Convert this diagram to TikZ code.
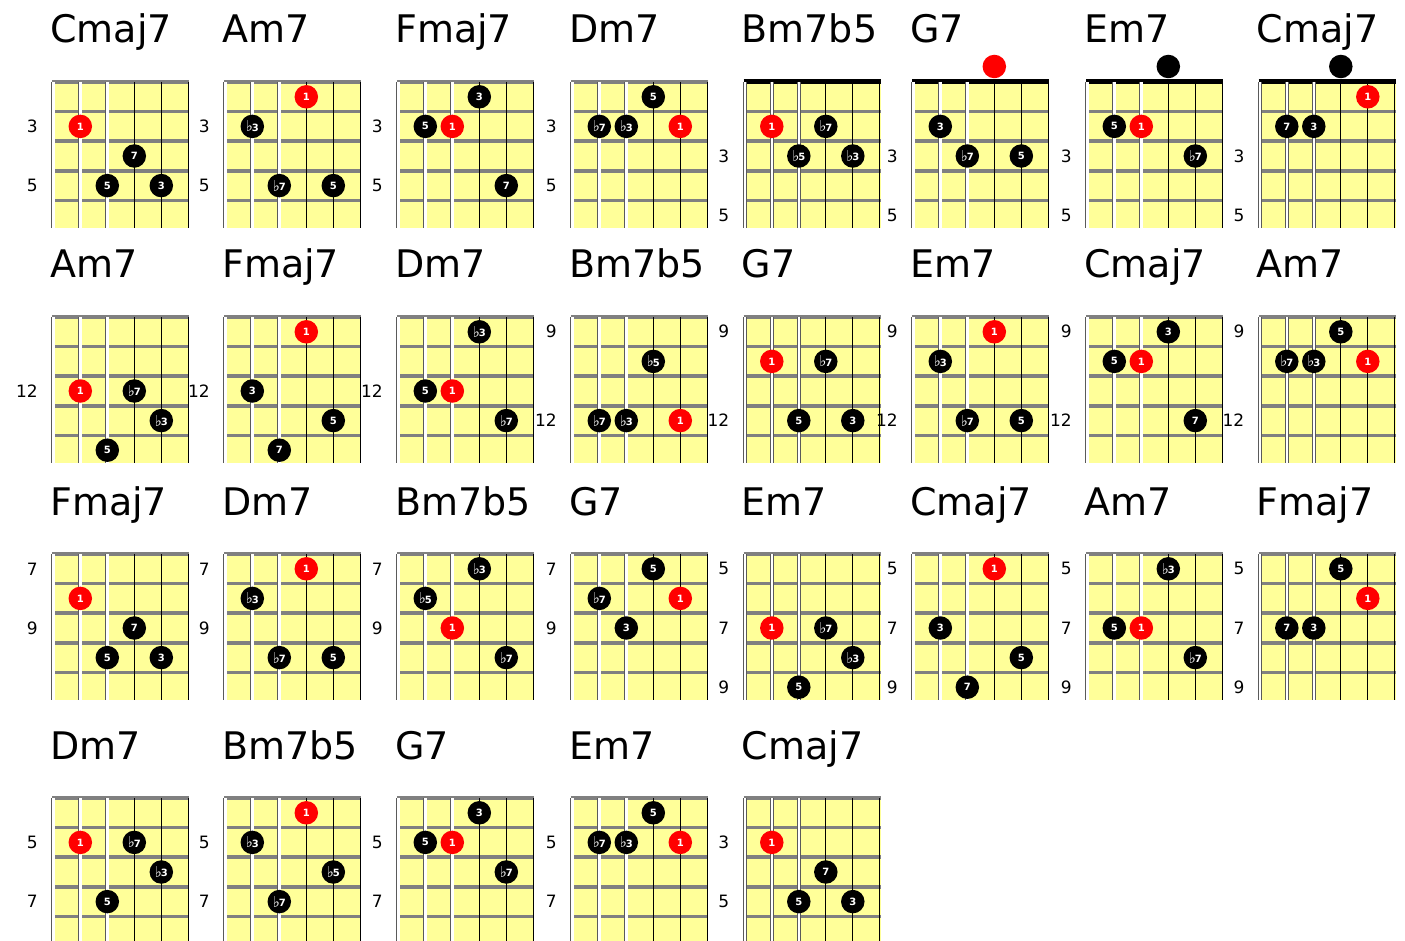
\documentclass[tikz,border=0pt]{standalone}
\usepackage{fontspec}
\setmainfont{DejaVu Sans}
\definecolor{fy}{RGB}{255,255,153}
\definecolor{fg}{RGB}{128,128,128}
\definecolor{rootred}{RGB}{255,0,0}
\newcommand\flt{{\fontsize{15}{15}\selectfont\mdseries\raisebox{-0.5pt}{♭}}\kern-1pt}
\tikzset{
 fretline/.style={draw=fg, line width=3.5pt},
 nutline/.style={draw=black, line width=5pt},
 wstring/.style={draw=fg!70!black, double=white, double distance=2.6pt, line width=0.8pt},
 bstring/.style={draw=black, line width=1.3pt},
 tone/.style={circle, text=white, minimum size=23.5pt, inner sep=0pt, font=\fontsize{10}{10}\selectfont\bfseries},
 charttitle/.style={anchor=base west, inner sep=0pt, font=\fontsize{38}{38}\selectfont},
 fretnum/.style={anchor=east, inner sep=0pt, font=\fontsize{17}{17}\selectfont},
}
% #1 name, #2 x0, #3 top, #4 title, #5 top line style, #6 labels r/text, #7 dots s/r/text/colour
\newcommand\chorddiag[7]{%
  \node[charttitle] (#1-t) at (#2-2,#3-39) {#4};
  \fill[fy] (#2,#3) rectangle (#2+137,#3+146);
  \foreach \k in {1,...,4} \draw[fretline] (#2,#3+\k*29.6) -- (#2+137,#3+\k*29.6);
  \draw[#5] (#2,#3) -- (#2+137,#3);
  \foreach \s in {0,1,2} \draw[wstring] (#2+1.3+\s*27,#3) -- (#2+1.3+\s*27,#3+146);
  \foreach \s in {3,4,5} \draw[bstring] (#2+1.3+\s*27,#3) -- (#2+1.3+\s*27,#3+146);
  \foreach \r/\txt in {#6} \node[fretnum] (#1-n\r) at (#2-14,#3+\r*29.6-14.8) {\txt};
  \foreach \s/\r/\txt/\col in {#7} \node[tone, fill=\col] (#1-\s-\r) at (#2+1.3+\s*27-27,#3+\r*29.6-14.8) {\txt};
}
\begin{document}
\begin{tikzpicture}[x=1pt,y=-1pt]
\useasboundingbox (0,0) rectangle (1405,941);
\clip (0,0) rectangle (1405,941);
\fill[white] (0,0) rectangle (1405,941);
% row 1
\chorddiag{a1}{52}{82}{Cmaj7}{fretline}{2/3,4/5}{2/2/1/rootred,4/3/7/black,3/4/5/black,5/4/3/black}
\chorddiag{a2}{224}{82}{Am7}{fretline}{2/3,4/5}{4/1/1/rootred,2/2/\flt 3/black,3/4/\flt 7/black,5/4/5/black}
\chorddiag{a3}{397}{82}{Fmaj7}{fretline}{2/3,4/5}{4/1/3/black,2/2/5/black,3/2/1/rootred,5/4/7/black}
\chorddiag{a4}{571}{82}{Dm7}{fretline}{2/3,4/5}{4/1/5/black,2/2/\flt 7/black,3/2/\flt 3/black,5/2/1/rootred}
\chorddiag{a5}{743.5}{82}{Bm7b5}{nutline}{3/3,5/5}{2/2/1/rootred,4/2/\flt 7/black,3/3/\flt 5/black,5/3/\flt 3/black}
\chorddiag{a6}{912}{82}{G7}{nutline}{3/3,5/5}{2/2/3/black,3/3/\flt 7/black,5/3/5/black}
\chorddiag{a7}{1086}{82}{Em7}{nutline}{3/3,5/5}{2/2/5/black,3/2/1/rootred,5/3/\flt 7/black}
\chorddiag{a8}{1258.5}{82}{Cmaj7}{nutline}{3/3,5/5}{5/1/1/rootred,2/2/7/black,3/2/3/black}
\node[tone, fill=rootred] (a6-open) at (912+1.3+81,66.5) {};
\node[tone, fill=black] (a7-open) at (1086+1.3+81,66.5) {};
\node[tone, fill=black] (a8-open) at (1258.5+1.3+81,66.5) {};
% row 2
\chorddiag{b1}{52}{317}{Am7}{fretline}{3/12}{2/3/1/rootred,4/3/\flt 7/black,5/4/\flt 3/black,3/5/5/black}
\chorddiag{b2}{224}{317}{Fmaj7}{fretline}{3/12}{4/1/1/rootred,2/3/3/black,5/4/5/black,3/5/7/black}
\chorddiag{b3}{397}{317}{Dm7}{fretline}{3/12}{4/1/\flt 3/black,2/3/5/black,3/3/1/rootred,5/4/\flt 7/black}
\chorddiag{b4}{571}{317}{Bm7b5}{fretline}{1/9,4/12}{4/2/\flt 5/black,2/4/\flt 7/black,3/4/\flt 3/black,5/4/1/rootred}
\chorddiag{b5}{743.5}{317}{G7}{fretline}{1/9,4/12}{2/2/1/rootred,4/2/\flt 7/black,3/4/5/black,5/4/3/black}
\chorddiag{b6}{912}{317}{Em7}{fretline}{1/9,4/12}{4/1/1/rootred,2/2/\flt 3/black,3/4/\flt 7/black,5/4/5/black}
\chorddiag{b7}{1086}{317}{Cmaj7}{fretline}{1/9,4/12}{4/1/3/black,2/2/5/black,3/2/1/rootred,5/4/7/black}
\chorddiag{b8}{1258.5}{317}{Am7}{fretline}{1/9,4/12}{4/1/5/black,2/2/\flt 7/black,3/2/\flt 3/black,5/2/1/rootred}
% row 3
\chorddiag{c1}{52}{554}{Fmaj7}{fretline}{1/7,3/9}{2/2/1/rootred,4/3/7/black,3/4/5/black,5/4/3/black}
\chorddiag{c2}{224}{554}{Dm7}{fretline}{1/7,3/9}{4/1/1/rootred,2/2/\flt 3/black,3/4/\flt 7/black,5/4/5/black}
\chorddiag{c3}{397}{554}{Bm7b5}{fretline}{1/7,3/9}{4/1/\flt 3/black,2/2/\flt 5/black,3/3/1/rootred,5/4/\flt 7/black}
\chorddiag{c4}{571}{554}{G7}{fretline}{1/7,3/9}{4/1/5/black,2/2/\flt 7/black,5/2/1/rootred,3/3/3/black}
\chorddiag{c5}{743.5}{554}{Em7}{fretline}{1/5,3/7,5/9}{2/3/1/rootred,4/3/\flt 7/black,5/4/\flt 3/black,3/5/5/black}
\chorddiag{c6}{912}{554}{Cmaj7}{fretline}{1/5,3/7,5/9}{4/1/1/rootred,2/3/3/black,5/4/5/black,3/5/7/black}
\chorddiag{c7}{1086}{554}{Am7}{fretline}{1/5,3/7,5/9}{4/1/\flt 3/black,2/3/5/black,3/3/1/rootred,5/4/\flt 7/black}
\chorddiag{c8}{1258.5}{554}{Fmaj7}{fretline}{1/5,3/7,5/9}{4/1/5/black,5/2/1/rootred,2/3/7/black,3/3/3/black}
% row 4
\chorddiag{d1}{52}{798}{Dm7}{fretline}{2/5,4/7}{2/2/1/rootred,4/2/\flt 7/black,5/3/\flt 3/black,3/4/5/black}
\chorddiag{d2}{224}{798}{Bm7b5}{fretline}{2/5,4/7}{4/1/1/rootred,2/2/\flt 3/black,5/3/\flt 5/black,3/4/\flt 7/black}
\chorddiag{d3}{397}{798}{G7}{fretline}{2/5,4/7}{4/1/3/black,2/2/5/black,3/2/1/rootred,5/3/\flt 7/black}
\chorddiag{d4}{571}{798}{Em7}{fretline}{2/5,4/7}{4/1/5/black,2/2/\flt 7/black,3/2/\flt 3/black,5/2/1/rootred}
\chorddiag{d5}{743.5}{798}{Cmaj7}{fretline}{2/3,4/5}{2/2/1/rootred,4/3/7/black,3/4/5/black,5/4/3/black}
\end{tikzpicture}
\end{document}
